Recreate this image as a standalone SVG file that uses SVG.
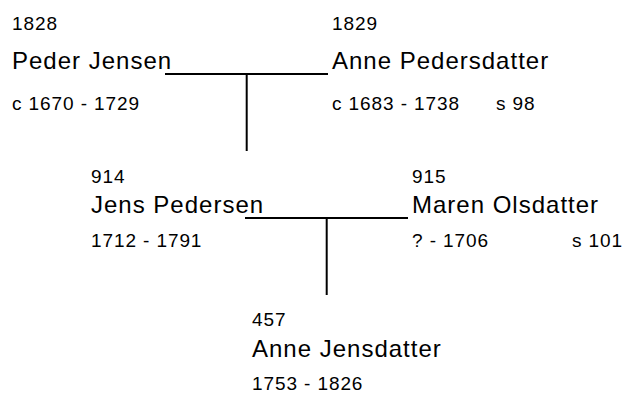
<svg xmlns="http://www.w3.org/2000/svg" width="626" height="394" viewBox="0 0 626 394">
<style>
text{font-family:"Liberation Sans",Arial,sans-serif;fill:#000}
.n{font-size:19px;letter-spacing:0.9px}
.m{font-size:24px;letter-spacing:1px}
.c line{stroke:#000;stroke-width:2}
</style>
<rect width="626" height="394" fill="#fff"/>
<g class="c" id="connectors">
<line x1="165" y1="74" x2="328" y2="74"/>
<line x1="246.7" y1="74" x2="246.7" y2="151"/>
<line x1="245" y1="218" x2="408" y2="218"/>
<line x1="326.7" y1="218" x2="326.7" y2="295"/>
</g>
<g id="p1828">
<text class="n" x="12" y="30">1828</text>
<text class="m" x="12" y="69">Peder Jensen</text>
<text class="n" x="12" y="110">c 1670 - 1729</text>
</g>
<g id="p1829">
<text class="n" x="332" y="30">1829</text>
<text class="m" x="332" y="69">Anne Pedersdatter</text>
<text class="n" x="332" y="110">c 1683 - 1738</text>
<text class="n" x="496" y="110">s 98</text>
</g>
<g id="p914">
<text class="n" x="91" y="183">914</text>
<text class="m" x="91" y="213">Jens Pedersen</text>
<text class="n" x="91" y="247">1712 - 1791</text>
</g>
<g id="p915">
<text class="n" x="412" y="183">915</text>
<text class="m" x="412" y="213">Maren Olsdatter</text>
<text class="n" x="412" y="247">? - 1706</text>
<text class="n" x="572" y="247">s 101</text>
</g>
<g id="p457">
<text class="n" x="252" y="326">457</text>
<text class="m" x="252" y="357">Anne Jensdatter</text>
<text class="n" x="252" y="390">1753 - 1826</text>
</g>
</svg>
